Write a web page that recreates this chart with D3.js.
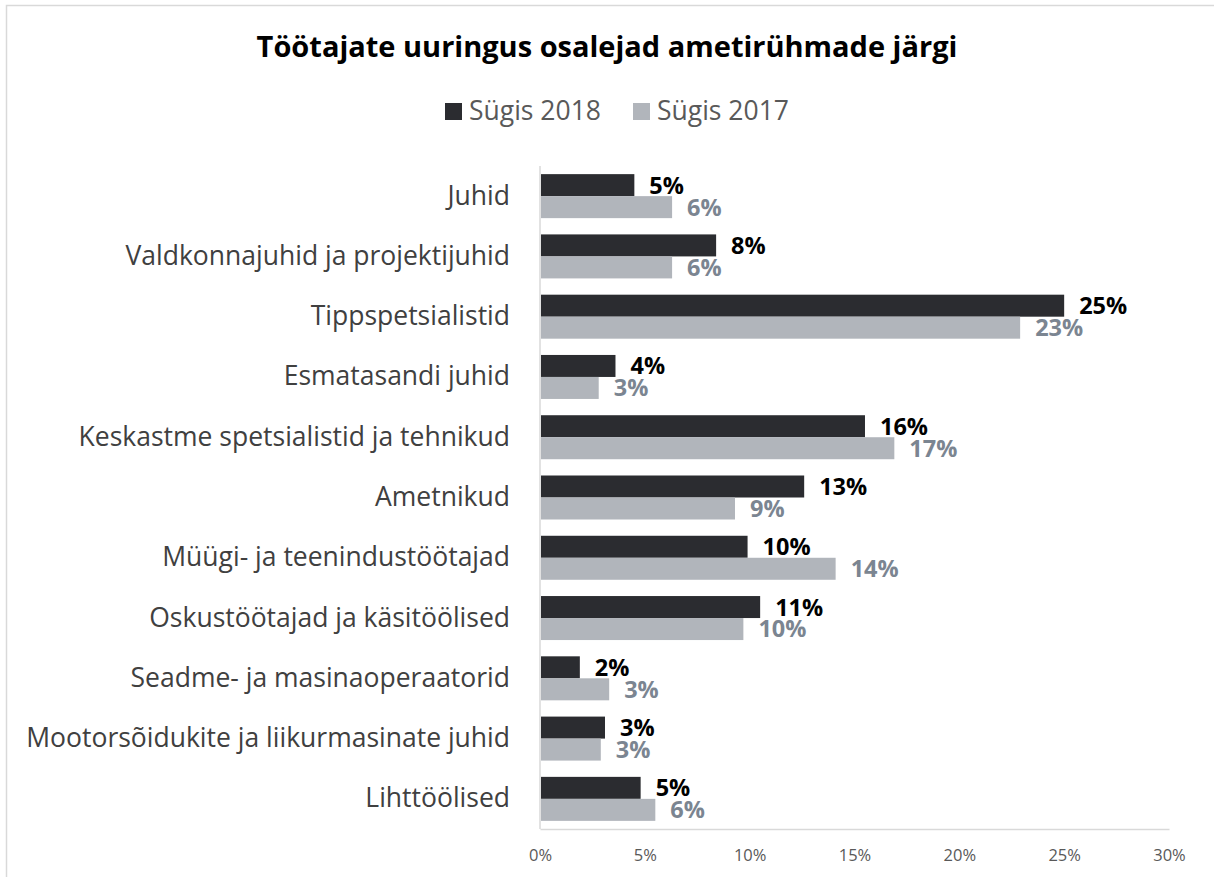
<!DOCTYPE html>
<html>
<head>
<meta charset="utf-8">
<script src="https://cdn.jsdelivr.net/npm/d3@7"></script>
<style>
  body { margin: 0; background: #fff; }
  svg { display: block; font-family: "Open Sans", sans-serif; }
</style>
</head>
<body>
<svg id="chart" width="1214" height="877"></svg>
<script>
// categories top -> bottom
const categories = [
  "Juhid",
  "Valdkonnajuhid ja projektijuhid",
  "Tippspetsialistid",
  "Esmatasandi juhid",
  "Keskastme spetsialistid ja tehnikud",
  "Ametnikud",
  "Müügi- ja teenindustöötajad",
  "Oskustöötajad ja käsitöölised",
  "Seadme- ja masinaoperaatorid",
  "Mootorsõidukite ja liikurmasinate juhid",
  "Lihttöölised"
]
const series = ["Sügis 2018", "Sügis 2017"]
// values in %
const values2018 = [4.5, 8.4, 25.0, 3.6, 15.5, 12.6, 9.9, 10.5, 1.9, 3.1, 4.8]
const values2017 = [6.3, 6.3, 22.9, 2.8, 16.9, 9.3, 14.1, 9.7, 3.3, 2.9, 5.5]
const xTicks = [0, 5, 10, 15, 20, 25, 30]

const colors = { "Sügis 2018": "#2b2c30", "Sügis 2017": "#b1b5bb" }
const labelColors = { "Sügis 2018": "#000000", "Sügis 2017": "#7b8591" }

const svg = d3.select("#chart")

// outer frame
svg.append("rect")
    .attr("x", 6.5).attr("y", 5.5)
    .attr("width", 1230).attr("height", 900)
    .attr("fill", "none")
    .attr("stroke", "#d9d9d9")
    .attr("stroke-width", 1.5)

svg.append("text")
    .attr("x", 607).attr("y", 57)
    .attr("text-anchor", "middle")
    .attr("font-size", 29)
    .attr("font-weight", "bold")
    .attr("fill", "#000")
    .text("Töötajate uuringus osalejad ametirühmade järgi")

// legend
const legendPos = [{ sq: 445, tx: 469 }, { sq: 633, tx: 657 }]
series.forEach((s, i) => {
  svg.append("rect")
      .attr("x", legendPos[i].sq).attr("y", 103)
      .attr("width", 17).attr("height", 17)
      .attr("fill", colors[s])
  svg.append("text")
      .attr("x", legendPos[i].tx).attr("y", 120)
      .attr("font-size", 26.5)
      .attr("fill", "#595959")
      .text(s)
})

const x = d3.scaleLinear().domain([0, 30]).range([540, 1169])
const y = d3.scaleBand().domain(categories).range([166, 829]).paddingInner(0.27).paddingOuter(0.135)
const y2 = d3.scaleBand().domain(series).range([0, y.bandwidth()])

// axes
const xAxis = svg.append("g")
    .attr("transform", "translate(0,829)")
    .call(d3.axisBottom(x).tickValues(xTicks).tickSize(0).tickPadding(20).tickFormat(d => d + "%"))
xAxis.select(".domain").attr("stroke", "#d9d9d9").attr("stroke-width", 1.5)
xAxis.selectAll("text").attr("font-size", 16.5).attr("fill", "#595959").attr("font-family", "Open Sans, sans-serif")

const yAxis = svg.append("g")
    .attr("transform", "translate(540,0)")
    .call(d3.axisLeft(y).tickSize(0).tickPadding(30))
yAxis.select(".domain").attr("stroke", "#d9d9d9").attr("stroke-width", 1.5).attr("d", "M0,166V829")
yAxis.selectAll("text").attr("font-size", 26.5).attr("fill", "#404040").attr("font-family", "Open Sans, sans-serif")

const rows = categories.map((c, i) => ({ cat: c, vals: [
  { s: series[0], v: values2018[i] },
  { s: series[1], v: values2017[i] }
]}))

const groups = svg.append("g").selectAll("g")
  .data(rows)
  .join("g")
    .attr("transform", d => "translate(0," + y(d.cat) + ")")

groups.selectAll("rect")
  .data(d => d.vals)
  .join("rect")
    .attr("x", x(0) + 1)
    .attr("y", d => y2(d.s))
    .attr("width", d => x(d.v) - x(0) - 1)
    .attr("height", y2.bandwidth())
    .attr("fill", d => colors[d.s])

groups.selectAll("text")
  .data(d => d.vals)
  .join("text")
    .attr("x", d => x(d.v) + 15)
    .attr("y", d => y2(d.s) + y2.bandwidth() / 2)
    .attr("dy", "0.36em")
    .attr("font-size", 23.5)
    .attr("font-weight", "bold")
    .attr("fill", d => labelColors[d.s])
    .text(d => Math.round(d.v) + "%")
</script>
</body>
</html>
